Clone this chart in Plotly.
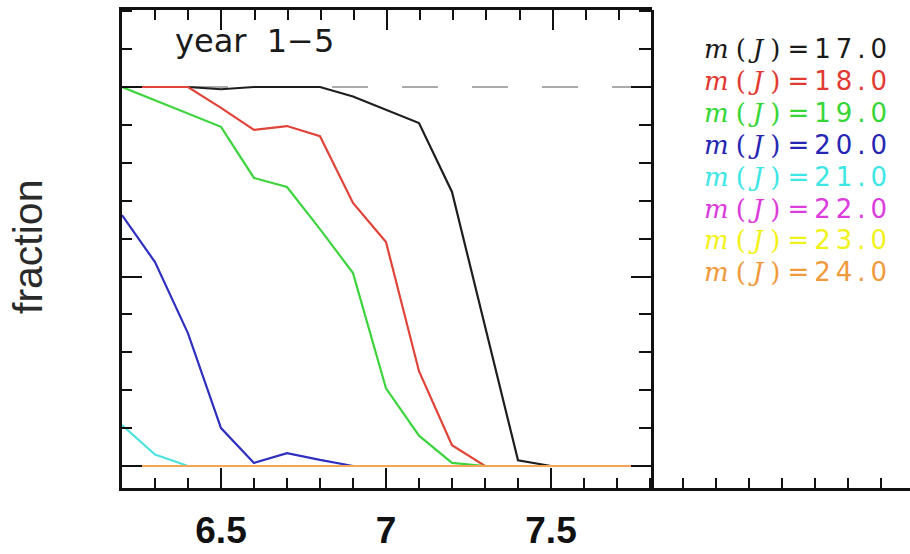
import numpy as np
import plotly.graph_objects as go

W, H = 910, 554

# absolute magnitude grid
mag = [6.2, 6.3, 6.4, 6.5, 6.6, 6.7, 6.8, 6.9, 7.0, 7.1, 7.2, 7.3, 7.4, 7.5, 7.6, 7.7, 7.8]

# detected fraction for each apparent J magnitude
frac_17 = [1.0, 1.0, 1.0, 0.994, 1.0, 1.0, 1.0, 0.975, 0.94, 0.905, 0.723, 0.37, 0.015, 0, 0, 0, 0]
frac_18 = [1.0, 1.0, 1.0, 0.945, 0.887, 0.897, 0.87, 0.694, 0.591, 0.25, 0.055, 0, 0, 0, 0, 0, 0]
frac_19 = [1.0, 0.965, 0.93, 0.895, 0.76, 0.736, 0.625, 0.509, 0.205, 0.08, 0.008, 0, 0, 0, 0, 0, 0]
frac_20 = [0.662, 0.538, 0.35, 0.10, 0.008, 0.034, 0.016, 0, 0, 0, 0, 0, 0, 0, 0, 0, 0]
frac_21 = [0.108, 0.03, 0, 0, 0, 0, 0, 0, 0, 0, 0, 0, 0, 0, 0, 0, 0]
frac_22 = [0] * 17
frac_23 = [0] * 17
frac_24 = [0] * 17

jmags = ["17.0", "18.0", "19.0", "20.0", "21.0", "22.0", "23.0", "24.0"]
series = [frac_17, frac_18, frac_19, frac_20, frac_21, frac_22, frac_23, frac_24]
line_colors = ["#1e1e1e", "#e04438", "#3ed43e", "#2f2fc0", "#4fe2e2", "#e040e0", "#f2f020", "#f4a656"]
text_colors = ["#1a1a1a", "#e23a32", "#36d636", "#2626b4", "#3fe6e6", "#dc3cdc", "#f2f21a", "#f09a3c"]

x_ticks = [6.5, 7.0, 7.5]
x_ticklabels = ["6.5", "7", "7.5"]
y_ticks = [0.0, 0.5, 1.0]

def px_x(p):
    return p / W

def px_y(p):
    return 1 - p / H

x_left, x_box_right = 122, 652
y_top, y_bottom = 10, 487.5
px_per_mag = 330.0
px_per_frac = 379.0

x_range_full = [6.2, 6.2 + (W - x_left) / px_per_mag]
x_range_box = [6.2, 7.8]
y_range = [-(y_bottom - 466) / px_per_frac, 1 + (87 - y_top) / px_per_frac]

x_minor = [v for v in np.round(np.arange(6.2, 8.6, 0.1), 1) if v not in x_ticks]
y_minor = [v for v in np.round(np.arange(0.0, 1.21, 0.1), 1) if v not in y_ticks]

fig = go.Figure()

# reference level at full completeness
fig.add_trace(go.Scatter(x=[mag[0], mag[-1]], y=[1, 1], mode="lines",
                         line=dict(color="#ababab", width=2, dash="36px,34px"),
                         showlegend=False, hoverinfo="skip"))

for vals, col in zip(series, line_colors):
    fig.add_trace(go.Scatter(x=mag, y=vals, mode="lines",
                             line=dict(color=col, width=2.2),
                             showlegend=False))

# keep the top-axis and right-axis subplots alive
fig.add_trace(go.Scatter(x=[], y=[], xaxis="x2", yaxis="y", showlegend=False))
fig.add_trace(go.Scatter(x=[], y=[], xaxis="x", yaxis="y2", showlegend=False))

axis_common = dict(showgrid=False, zeroline=False, showline=True, automargin=False,
                   linecolor="#111", linewidth=2.5, ticks="inside",
                   tickcolor="#111", tickwidth=2)

fig.update_layout(
    width=W, height=H,
    margin=dict(l=0, r=0, t=0, b=0, pad=0),
    paper_bgcolor="white", plot_bgcolor="rgba(0,0,0,0)",
    xaxis=dict(domain=[px_x(x_left), 1.0], range=x_range_full, anchor="y",
               tickmode="array", tickvals=x_ticks, ticktext=x_ticklabels,
               ticklen=20, ticklabelstandoff=8,
               tickfont=dict(family="Liberation Sans", size=37, color="#111", weight="bold"),
               minor=dict(tickmode="array", tickvals=x_minor, ticklen=10,
                          ticks="inside", tickcolor="#111", tickwidth=2),
               **axis_common),
    xaxis2=dict(domain=[px_x(x_left), px_x(x_box_right)], range=x_range_box,
                anchor="y", side="top", tickmode="array", tickvals=x_ticks,
                ticklen=20, showticklabels=False,
                minor=dict(tickmode="array", tickvals=[v for v in x_minor if v <= 7.8],
                           ticklen=10, ticks="inside", tickcolor="#111", tickwidth=2),
                **axis_common),
    yaxis=dict(domain=[px_y(y_bottom), px_y(y_top)], range=y_range, anchor="x",
               tickmode="array", tickvals=y_ticks, ticklen=20, showticklabels=False,
               minor=dict(tickmode="array", tickvals=y_minor, ticklen=10,
                          ticks="inside", tickcolor="#111", tickwidth=2),
               **axis_common),
    yaxis2=dict(overlaying="y", anchor="free", position=px_x(x_box_right), side="right",
                range=y_range, tickmode="array", tickvals=y_ticks, ticklen=20,
                showticklabels=False,
                minor=dict(tickmode="array", tickvals=y_minor, ticklen=12,
                           ticks="inside", tickcolor="#111", tickwidth=2),
                **axis_common),
)

annotations = [
    dict(text="year  1\u22125", x=px_x(173), y=px_y(41), xref="paper", yref="paper",
         xanchor="left", yanchor="middle", showarrow=False,
         font=dict(family="DejaVu Sans", size=32, color="#1a1a1a")),
    dict(text="fraction", x=px_x(28), y=px_y(247), xref="paper", yref="paper",
         xanchor="center", yanchor="middle", textangle=-90, showarrow=False,
         font=dict(family="Liberation Sans", size=41, color="#2a2a2a")),
]

# legend block: one text, one coloured line per magnitude
legend_lines = []
for jm, col in zip(jmags, text_colors):
    legend_lines.append(
        "<span style=\"color:" + col + "\">"
        "<span style=\"font-family:'DejaVu Serif';font-size:26px;letter-spacing:7px\">"
        "<i>m</i>(<i>J</i>)</span>"
        "<span style=\"font-size:26px;letter-spacing:5px\">=" + jm + "</span></span>"
    )
line_gap = 31.9
annotations.append(dict(text="<br>".join(legend_lines), x=px_x(702), y=px_y(160),
                        xref="paper", yref="paper", xanchor="left", yanchor="middle",
                        align="left", showarrow=False,
                        font=dict(family="DejaVu Sans", size=line_gap / 1.3, color="#1a1a1a")))

fig.update_layout(annotations=annotations)

fig.write_html("out.html")
